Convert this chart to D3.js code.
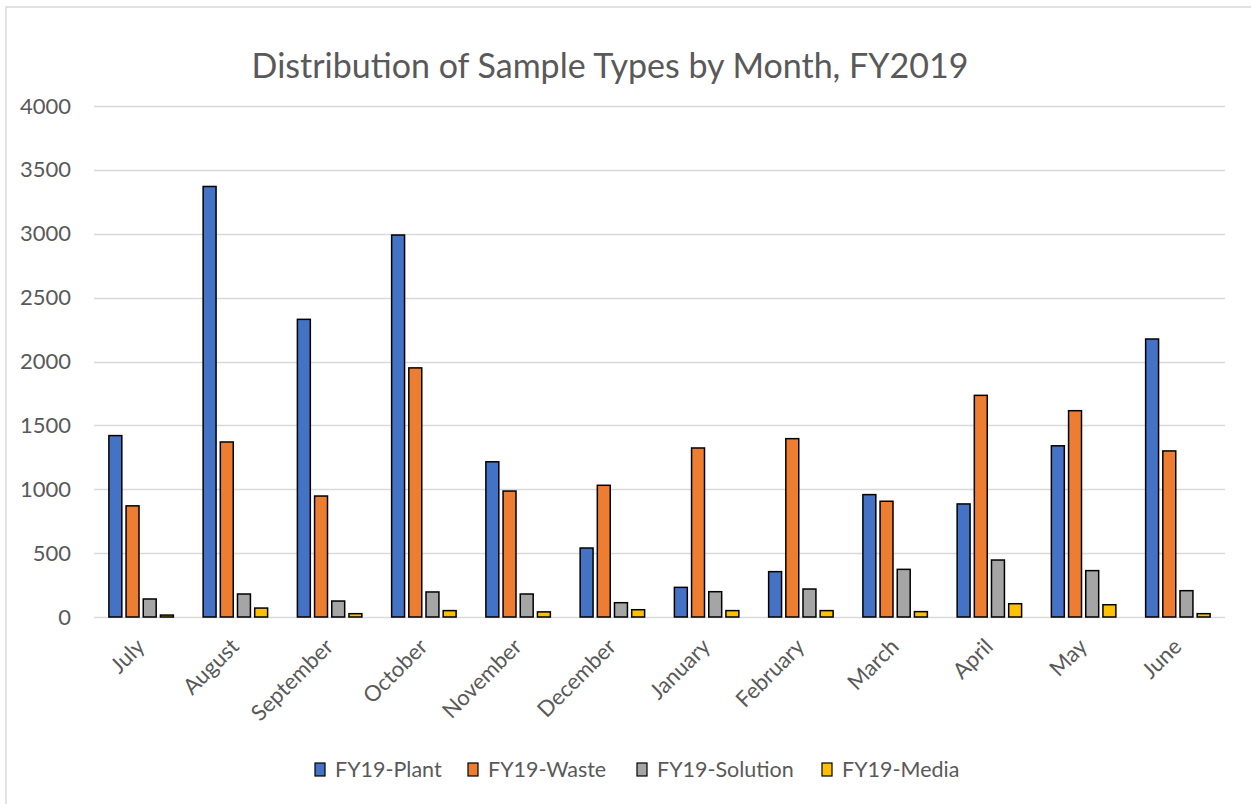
<!DOCTYPE html>
<html>
<head>
<meta charset="utf-8">
<script src="https://cdn.jsdelivr.net/npm/d3@7"></script>
<style>
  body { margin: 0; background: #fff; }
  text { font-family: Lato, "Open Sans", sans-serif; fill: #595959; }
</style>
</head>
<body>
<svg id="main"></svg>
<script>
var months = ["July","August","September","October","November","December","January","February","March","April","May","June"];
var seriesNames = ["FY19-Plant","FY19-Waste","FY19-Solution","FY19-Media"];
var colors = ["#4472C4","#ED7D31","#A5A5A5","#FFC000"];
var plant = [1420, 3370, 2330, 2990, 1215, 540, 232, 355, 958, 885, 1340, 2176];
var waste = [870, 1370, 947, 1950, 986, 1031, 1323, 1396, 906, 1735, 1615, 1300];
var solution = [141, 180, 125, 196, 180, 112, 198, 219, 373, 446, 363, 206];
var media = [15, 70, 26, 50, 40, 57, 50, 50, 42, 104, 96, 26];
var yTicks = [0, 500, 1000, 1500, 2000, 2500, 3000, 3500, 4000];

var w = 1251;
var h = 804;
var paddingLeft = 94;
var paddingRight = 26;
var paddingTop = 106;
var paddingBottom = 187;

var svg = d3.select("#main")
  .attr("width", w)
  .attr("height", h);

// chart border
svg.append("rect")
  .attr("x", 6).attr("y", 7)
  .attr("width", w + 10).attr("height", h + 10)
  .attr("fill", "#fff")
  .attr("stroke", "#D9D9D9")
  .attr("stroke-width", 1.5);

var allSeries = [plant, waste, solution, media];
var rows = months.map(function(m, i) {
  return { month: m, values: allSeries.map(function(s, j) { return { key: j, value: s[i] }; }) };
});

var x0 = d3.scaleBand()
  .domain(months)
  .range([paddingLeft, w - paddingRight])
  .paddingInner(0.3)
  .paddingOuter(0.15);

var x1 = d3.scaleBand()
  .domain([0, 1, 2, 3])
  .range([0, x0.bandwidth()])
  .paddingInner(0.16);

var yScale = d3.scaleLinear()
  .domain([0, 4000])
  .range([h - paddingBottom, paddingTop]);

// gridlines
svg.append("g")
  .selectAll("line")
  .data(yTicks)
  .enter()
  .append("line")
  .attr("x1", paddingLeft)
  .attr("x2", w - paddingRight)
  .attr("y1", function(d) { return Math.round(yScale(d)) + 0.5; })
  .attr("y2", function(d) { return Math.round(yScale(d)) + 0.5; })
  .attr("stroke", "#D9D9D9")
  .attr("stroke-width", 1.5);

var yAxis = d3.axisLeft(yScale)
  .tickValues(yTicks)
  .tickFormat(d3.format("d"))
  .tickSize(0)
  .tickPadding(0);

var yG = svg.append("g")
  .attr("transform", "translate(71,0)")
  .call(yAxis);
yG.select(".domain").remove();
yG.selectAll("text")
  .style("font-size", "22px")
  .attr("fill", "#595959");

// bars
var groups = svg.append("g")
  .selectAll("g")
  .data(rows)
  .enter()
  .append("g")
  .attr("transform", function(d) { return "translate(" + x0(d.month) + ",0)"; });

groups.selectAll("rect")
  .data(function(d) { return d.values; })
  .enter()
  .append("rect")
  .attr("x", function(d) { return x1(d.key) + 0.75; })
  .attr("width", x1.bandwidth() - 1.5)
  .attr("y", function(d) { return yScale(d.value); })
  .attr("height", function(d) { return yScale(0) - yScale(d.value); })
  .attr("fill", function(d) { return colors[d.key]; })
  .attr("stroke", "#000")
  .attr("stroke-width", 1.5);

// x labels
var xAxis = d3.axisBottom(x0).tickSize(0).tickPadding(0);
var xG = svg.append("g")
  .attr("transform", "translate(0," + (h - paddingBottom) + ")")
  .call(xAxis);
xG.select(".domain").remove();
xG.selectAll("text")
  .style("font-size", "22px")
  .attr("fill", "#595959")
  .attr("text-anchor", "end")
  .attr("dy", 0)
  .attr("transform", "translate(5,31) rotate(-45)");

// title
svg.append("text")
  .attr("x", 610)
  .attr("y", 78)
  .attr("text-anchor", "middle")
  .style("font-size", "34px")
  .text("Distribution of Sample Types by Month, FY2019");

// legend
var legendX = [315, 468, 637, 822];
var legend = svg.append("g")
  .selectAll("g")
  .data(seriesNames)
  .enter()
  .append("g")
  .attr("transform", function(d, i) { return "translate(" + legendX[i] + ",763)"; });

legend.append("rect")
  .attr("width", 10).attr("height", 13)
  .attr("fill", function(d, i) { return colors[i]; })
  .attr("stroke", "#000")
  .attr("stroke-width", 1.2);

legend.append("text")
  .attr("x", 20)
  .attr("y", 14)
  .style("font-size", "21.5px")
  .text(function(d) { return d; });
</script>
</body>
</html>
